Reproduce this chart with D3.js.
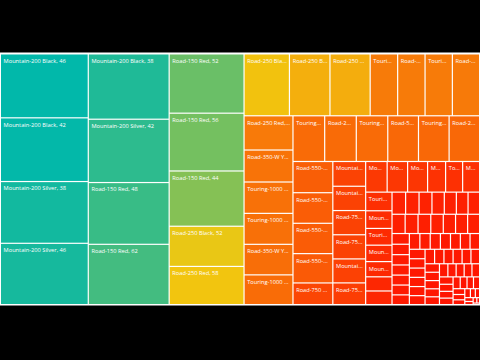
<!DOCTYPE html>
<html>
<head>
<meta charset="utf-8">
<script src="https://cdn.jsdelivr.net/npm/d3@7"></script>
<style>
  body { margin: 0; background: #000; }
  svg { display: block; }
</style>
</head>
<body>
<script>
const width = 480;
const height = 360;
const area = { left: 1, top: 54.5, right: 479, bottom: 304 };

// product, frame size  (labels shown on the tiles)
const products = [
  "Mountain-200 Black, 46", "Mountain-200 Black, 42", "Mountain-200 Silver, 38", "Mountain-200 Silver, 46",
  "Mountain-200 Black, 38", "Mountain-200 Silver, 42", "Road-150 Red, 48", "Road-150 Red, 62",
  "Road-150 Red, 52", "Road-150 Red, 56", "Road-150 Red, 44", "Road-250 Black, 52", "Road-250 Red, 58",
  "Road-250 Black, 44", "Road-250 Black, 48", "Road-250 Black, 58", "Touring-1000 Yellow, 60",
  "Road-350-W Yellow, 42", "Touring-1000 Blue, 60", "Road-350-W Yellow, 44",
  "Road-250 Red, 44", "Road-350-W Yellow, 48", "Touring-1000 Yellow, 46", "Touring-1000 Yellow, 50",
  "Road-350-W Yellow, 40", "Touring-1000 Blue, 46",
  "Touring-1000 Blue, 50", "Road-250 Red, 48", "Touring-1000 Yellow, 54", "Road-550-W Yellow, 44",
  "Touring-1000 Blue, 54", "Road-250 Red, 52",
  "Road-550-W Yellow, 48", "Road-550-W Yellow, 38", "Road-550-W Yellow, 40", "Road-550-W Yellow, 42",
  "Road-750 Black, 58",
  "Mountain-100 Black, 44", "Mountain-100 Silver, 38", "Road-750 Black, 52", "Road-750 Black, 48",
  "Mountain-100 Black, 48", "Road-750 Black, 44",
  "Mountain-100 Silver, 42", "Mountain-100 Black, 38", "Mountain-100 Silver, 44", "Mountain-100 Black, 42",
  "Touring-2000 Blue, 60", "Mountain-100 Silver, 48",
  "Touring-3000 Blue, 54", "Mountain-300 Black, 48", "Touring-3000 Yellow, 62", "Mountain-300 Black, 40",
  "Mountain-300 Black, 44", "Mountain-300 Black, 38", "Touring-2000 Blue, 50",
  "Sport-100 Helmet, Red", "Mountain-400-W Silver, 42", "Mountain-500 Silver, 44", "Mountain-400-W Silver, 38",
  "Mountain-500 Black, 48", "Mountain-500 Silver, 40",
  "Mountain-500 Black, 42", "Road-650 Red, 44", "Road-650 Black, 58", "Mountain-400-W Silver, 46",
  "Road-650 Red, 52", "Road-450 Red, 48", "Road-650 Black, 52",
  "Touring-3000 Blue, 44", "Mountain-500 Black, 52", "Road-650 Red, 60", "Touring-3000 Yellow, 50",
  "Mountain-500 Silver, 48", "Road-650 Black, 44", "Road-450 Red, 44", "Touring-3000 Yellow, 44",
  "Mountain-500 Black, 40", "Road-650 Red, 58", "Road-450 Red, 52", "Touring-3000 Blue, 50",
  "Road-650 Black, 48", "Mountain-500 Silver, 52", "Road-650 Red, 62", "Touring-3000 Yellow, 54",
  "Mountain-500 Black, 44", "Road-450 Red, 58", "Road-650 Black, 60", "Touring-3000 Blue, 58",
  "Mountain-500 Silver, 42", "Road-650 Red, 48", "Touring-3000 Yellow, 58", "Road-450 Red, 60",
  "Road-650 Black, 62", "Touring-3000 Blue, 62", "Mountain-400-W Silver, 40", "Touring-2000 Blue, 54",
  "Touring-2000 Blue, 46", "Women's Mountain Shorts, L", "Long-Sleeve Logo Jersey, L", "Classic Vest, S",
  "Short-Sleeve Classic Jersey, XL", "Mountain Bike Socks, M", "Half-Finger Gloves, L", "Full-Finger Gloves, M",
  "Women's Tights, M", "Racing Socks, L", "Men's Sports Shorts, L", "Hydration Pack, 70",
  "Sport-100 Helmet, Black", "Sport-100 Helmet, Blue", "HL Mountain Tire", "ML Road Tire",
  "Touring Tire", "Road Tire Tube", "Water Bottle, 30", "Patch Kit", "Bike Wash", "Cable Lock",
  "Fender Set", "Headlights", "Taillights", "Hitch Rack", "Minipump", "Chain"
];

// sales amount per product (same order)
const sales = [
  5600, 5580, 5410, 5370,
  5265, 5105, 4980, 4860,
  4425, 4315, 4125, 3000, 2850,
  2800, 2500, 2480, 1695, 1690, 1685, 1680,
  1670, 1560, 1530, 1510, 1490, 1450,
  1445, 1440, 1435, 1400, 1395, 1390,
  1240, 1215, 1205, 1165, 860,
  810, 795, 792, 790, 785, 710,
  656, 625, 610, 550, 520, 518,
  490, 464, 440, 432, 400, 372, 358,
  300, 296, 285, 272, 266, 258,
  255, 252, 248, 245, 240, 236, 232,
  230, 185, 180, 178, 175, 172, 170, 168, 165, 162, 160, 158, 155, 152,
  150, 148, 146, 145, 144, 142, 140, 138, 135, 132, 130,
  128, 125, 122, 120, 118, 115, 112, 110, 108, 105,
  102, 100, 100, 96, 92, 88, 84, 80, 76, 72, 68,
  62, 56, 50, 44, 38, 32, 26, 20, 15, 10
];

const colorStops = ["#ff1000", "#f2c80f", "#01b8aa"];
const colorMid = 2900;

let svg = d3.select("body").append("svg")
	.attr("width", width)
	.attr("height", height);

svg.append("rect")
	.attr("width", width)
	.attr("height", height)
	.attr("fill", "#000");

// white frame behind the tiles
svg.append("rect")
	.attr("x", 0)
	.attr("y", 52.5)
	.attr("width", width)
	.attr("height", 253)
	.attr("fill", "#fff");

let root = d3.hierarchy({ children: products.map((p, i) => ({ name: p, value: sales[i] })) })
	.sum(d => d.value || 0)
	.sort((a, b) => b.value - a.value);

d3.treemap()
	.tile(d3.treemapSquarify)
	.size([area.right - area.left, area.bottom - area.top])
	.paddingInner(1.2)(root);

let color = d3.scaleLinear()
	.domain([d3.min(sales), colorMid, d3.max(sales)])
	.range(colorStops);

let g = svg.append("g")
	.attr("transform", `translate(${area.left},${area.top})`);

let cell = g.selectAll(".cell")
	.data(root.leaves())
	.enter()
	.append("g")
	.attr("class", "cell");

cell.append("rect")
	.attr("x", d => d.x0)
	.attr("y", d => d.y0)
	.attr("width", d => d.x1 - d.x0)
	.attr("height", d => d.y1 - d.y0)
	.attr("fill", d => color(d.value));

// labels only where the tile is big enough, cut with "..." like the original
let label = cell.filter(d => d.y1 - d.y0 >= 13 && d.x1 - d.x0 >= 15)
	.append("text")
	.attr("x", d => d.x0 + 2.6)
	.attr("y", d => d.y0 + 8.3)
	.attr("fill", "#fff")
	.style("font-family", "'Segoe UI', 'Open Sans', sans-serif")
	.style("font-size", "5.7px");

label.each(function(d){
	let t = d3.select(this);
	let maxW = d.x1 - d.x0 - 4.5;
	let name = d.data.name;
	t.text(name);
	if (this.getComputedTextLength() <= maxW) return;
	for (let n = name.length - 1; n > 0; n--) {
		t.text(name.slice(0, n) + "...");
		if (this.getComputedTextLength() <= maxW) return;
	}
	t.remove();
});
</script>
</body>
</html>
